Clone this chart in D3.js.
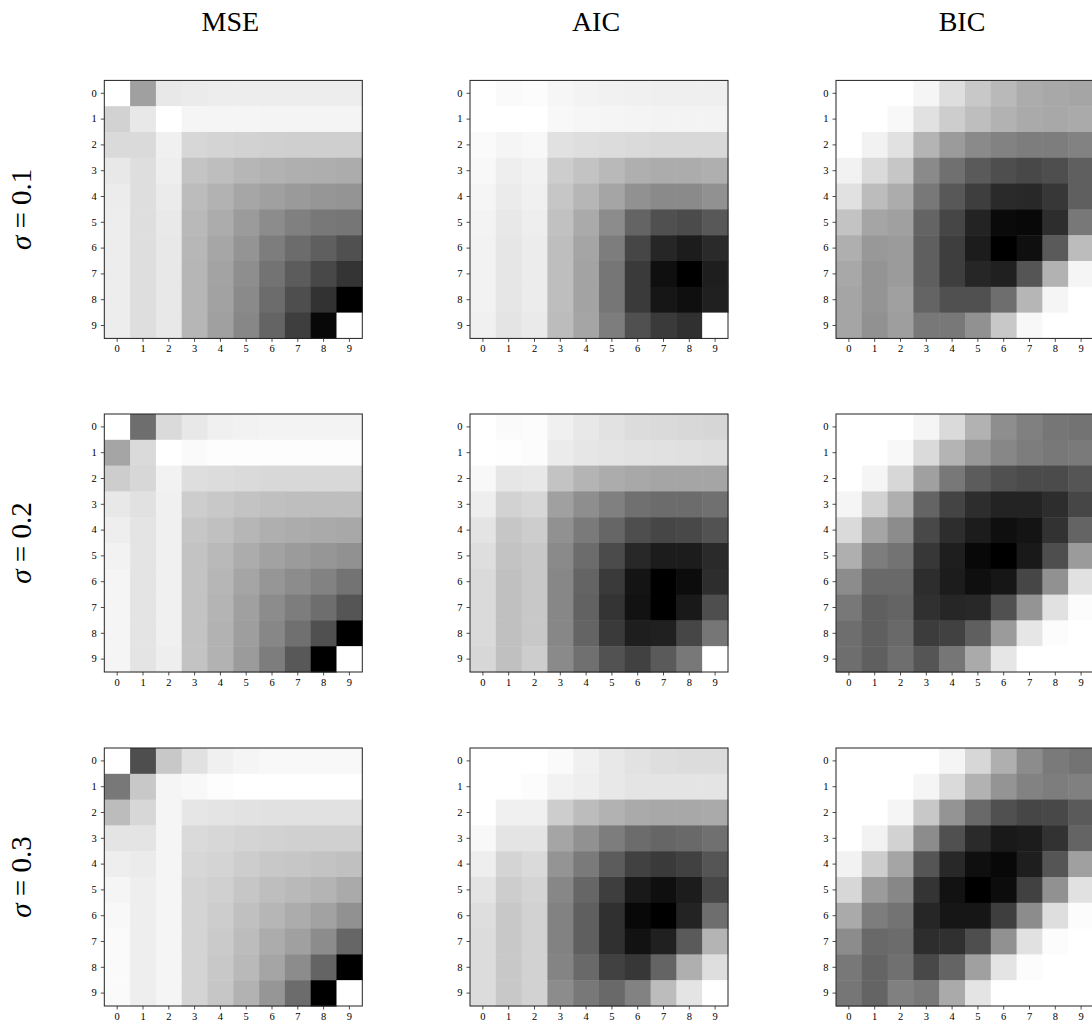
<!DOCTYPE html>
<html>
<head>
<meta charset="utf-8">
<script src="https://cdn.jsdelivr.net/npm/d3@7"></script>
<style>
  body { margin: 0; background: #fff; }
  svg { display: block; }
  text { font-family: "Liberation Serif", "DejaVu Serif", serif; fill: #000; }
</style>
</head>
<body>
<svg id="chart"></svg>
<script>
// gray level of each cell (0 = black, 255 = white)
const cols = ["MSE", "AIC", "BIC"];
const sigmas = ["0.1", "0.2", "0.3"];
const ticks = [0, 1, 2, 3, 4, 5, 6, 7, 8, 9];

const mse1 = [
  [255,160,232,235,237,237,237,237,237,237],
  [210,232,255,245,245,245,244,244,244,244],
  [218,218,240,215,212,210,208,207,207,207],
  [232,222,238,196,190,182,178,175,174,172],
  [236,222,235,188,178,166,160,154,150,148],
  [237,222,233,185,172,155,140,128,120,118],
  [237,222,232,183,166,148,125,108,95,80],
  [237,222,232,182,163,142,115,92,72,52],
  [237,222,232,182,162,138,108,78,50,0],
  [237,222,232,182,160,135,100,62,8,255]
];
const aic1 = [
  [255,250,252,246,243,241,240,239,239,239],
  [255,255,255,248,246,245,244,243,243,243],
  [250,245,248,225,222,220,218,216,216,216],
  [248,238,242,205,195,185,175,172,172,175],
  [245,235,240,198,182,165,145,138,138,145],
  [243,232,238,193,170,140,100,80,75,88],
  [242,230,236,190,165,125,70,38,28,42],
  [242,230,236,190,163,118,58,15,0,30],
  [242,230,236,190,163,118,58,22,15,32],
  [240,228,234,188,165,125,80,58,48,255]
];
const bic1 = [
  [255,255,255,245,222,200,185,172,168,165],
  [255,255,248,225,205,190,178,170,168,170],
  [255,242,225,180,155,138,130,125,125,130],
  [242,218,198,138,112,90,78,72,78,95],
  [225,188,172,120,88,62,42,40,55,95],
  [195,165,160,100,70,35,10,8,45,120],
  [175,152,155,95,62,28,0,15,90,188],
  [168,148,155,95,62,38,32,85,178,245],
  [165,148,160,100,80,80,110,182,245,255],
  [165,145,158,120,120,145,200,248,255,255]
];
const mse2 = [
  [255,110,218,232,240,242,243,243,243,243],
  [165,218,255,250,253,253,253,253,253,253],
  [205,215,242,222,220,218,216,216,216,216],
  [232,225,240,205,200,195,192,190,190,190],
  [238,228,240,198,192,182,175,172,170,168],
  [242,228,240,195,185,172,162,155,150,145],
  [245,228,240,195,182,165,150,140,130,115],
  [245,228,240,195,180,160,140,125,110,85],
  [245,228,240,195,178,158,135,112,80,0],
  [245,228,238,195,178,155,125,88,0,255]
];
const aic2 = [
  [255,250,252,240,232,226,220,218,216,214],
  [255,254,252,235,230,228,226,225,224,222],
  [248,230,232,195,180,172,168,165,165,165],
  [238,210,215,160,142,128,112,108,108,112],
  [228,198,205,145,122,102,78,70,72,82],
  [222,195,200,138,108,75,40,28,28,42],
  [218,192,200,135,100,58,20,0,12,45],
  [218,192,200,135,98,52,18,0,25,78],
  [218,192,200,135,100,58,30,32,70,118],
  [215,192,205,138,112,82,65,90,120,255]
];
const bic2 = [
  [255,255,255,245,218,178,142,128,118,115],
  [255,255,248,218,180,152,135,125,120,122],
  [255,245,215,160,120,92,80,75,75,85],
  [245,210,175,100,68,45,35,35,45,70],
  [218,165,140,72,45,28,15,20,50,100],
  [175,125,115,55,30,8,0,25,78,155],
  [140,105,105,45,28,15,22,70,145,225],
  [120,95,100,48,38,40,80,148,225,252],
  [110,95,105,60,65,95,155,230,252,255],
  [110,95,110,85,118,170,230,255,255,255]
];
const mse3 = [
  [255,78,200,225,240,245,248,248,248,248],
  [120,200,245,248,253,255,255,255,255,255],
  [188,215,245,230,228,226,225,225,225,225],
  [228,228,245,218,215,212,210,208,208,208],
  [238,235,245,215,212,205,200,198,195,192],
  [245,238,245,212,208,198,190,185,180,170],
  [248,238,245,212,205,192,182,172,162,145],
  [250,238,245,212,202,188,172,160,140,102],
  [250,238,245,212,200,185,165,140,100,0],
  [250,238,245,212,198,178,150,108,0,255]
];
const aic3 = [
  [255,255,255,250,240,232,226,222,220,220],
  [255,255,252,242,238,232,228,228,228,228],
  [255,240,240,205,188,178,170,168,168,170],
  [248,228,228,165,145,125,108,102,105,112],
  [238,212,218,148,122,92,65,58,65,85],
  [228,205,212,135,102,62,25,15,28,70],
  [222,200,210,130,95,48,8,0,35,110],
  [220,200,210,130,95,48,18,32,90,180],
  [220,200,210,132,105,65,55,100,175,222],
  [220,200,210,140,120,105,130,188,228,255]
];
const bic3 = [
  [255,255,255,255,245,215,175,140,122,115],
  [255,255,255,245,218,178,148,130,125,128],
  [255,255,245,200,148,105,80,70,72,90],
  [255,242,210,140,80,42,25,28,50,100],
  [242,205,165,85,40,15,8,30,85,160],
  [215,155,135,52,18,0,12,65,145,225],
  [170,125,115,38,22,22,62,140,222,252],
  [140,105,108,45,48,78,145,225,252,255],
  [120,100,112,72,100,160,228,252,255,255],
  [118,100,128,120,170,228,255,255,255,255]
];

const grids = [
  [mse1, aic1, bic1],
  [mse2, aic2, bic2],
  [mse3, aic3, bic3]
];

const W = 1092, H = 1029;
const size = 258;
const colX = [104.3, 470, 836];
const rowY = [80.4, 414, 748];

const svg = d3.select("#chart").attr("width", W).attr("height", H);

const band = d3.scaleBand().domain(ticks).range([0, size]);
const gray = d3.scaleLinear().domain([0, 255]).range(["#000000", "#ffffff"]);

// column titles
cols.forEach((c, j) => {
  svg.append("text")
    .attr("x", colX[j] + size / 2 - 3)
    .attr("y", 31)
    .attr("text-anchor", "middle")
    .style("font-size", "28px")
    .text(c);
});

// row labels (sigma in italic, like the LaTeX original)
sigmas.forEach((s, i) => {
  const t = svg.append("text")
    .attr("transform", `translate(31, ${rowY[i] + size / 2}) rotate(-90)`)
    .attr("text-anchor", "middle")
    .style("font-size", "29px");
  t.append("tspan").style("font-style", "italic").text("\u03c3");
  t.append("tspan").text(" = " + s);
});

grids.forEach((row, i) => {
  row.forEach((m, j) => {
    const g = svg.append("g").attr("transform", `translate(${colX[j]}, ${rowY[i]})`);

    const cells = [];
    m.forEach((vals, r) => vals.forEach((v, c) => cells.push({ r, c, v })));

    g.selectAll("rect.cell")
      .data(cells)
      .enter()
      .append("rect")
      .attr("class", "cell")
      .attr("x", d => band(d.c))
      .attr("y", d => band(d.r))
      .attr("width", band.bandwidth() + 0.5)
      .attr("height", band.bandwidth() + 0.5)
      .attr("fill", d => gray(d.v));

    // frame
    g.append("rect")
      .attr("width", size)
      .attr("height", size)
      .attr("fill", "none")
      .attr("stroke", "#222")
      .attr("stroke-width", 1);

    const yAxis = g.append("g")
      .call(d3.axisLeft(band).tickSize(3.5).tickPadding(4));
    const xAxis = g.append("g")
      .attr("transform", `translate(0, ${size})`)
      .call(d3.axisBottom(band).tickSize(3.5).tickPadding(3));

    [yAxis, xAxis].forEach(ax => {
      ax.select(".domain").remove();
      ax.selectAll("line").attr("stroke", "#222").attr("stroke-width", 0.8);
      ax.selectAll("text")
        .style("font-family", "'Liberation Serif', serif")
        .style("font-size", "10.5px")
        .attr("fill", "#000");
    });
  });
});
</script>
</body>
</html>
